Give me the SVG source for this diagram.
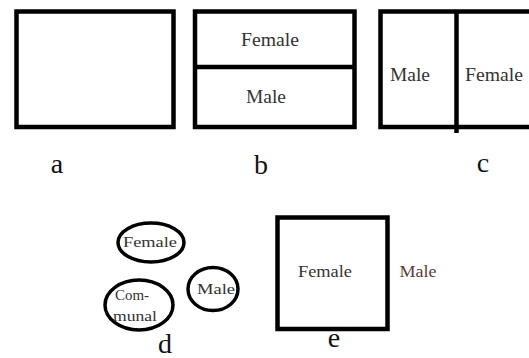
<svg xmlns="http://www.w3.org/2000/svg" width="529" height="358" viewBox="0 0 529 358">
<style>
.box{fill:#fff;stroke:#000;stroke-width:4.5}
.ell{fill:#fff;stroke:#000;stroke-width:3.5}
.ln{stroke:#000;stroke-width:4.5;fill:none}
.t{fill:#333;text-anchor:middle}
.lbl{fill:#111;text-anchor:middle;font-size:28px}
</style>
<rect width="529" height="358" fill="#fff"/>
<g font-family="Times New Roman, Liberation Serif, DejaVu Serif, serif">
<g id="a">
<rect class="box" x="16.5" y="11.5" width="157" height="115.5"/>
<text class="lbl" x="57" y="173">a</text>
</g>
<g id="b">
<rect class="box" x="195" y="11.5" width="159.5" height="115.5"/>
<line class="ln" x1="195" y1="67" x2="354.5" y2="67"/>
<text class="t" x="270" y="46" font-size="18" textLength="58" lengthAdjust="spacingAndGlyphs">Female</text>
<text class="t" x="266" y="103" font-size="18" textLength="40" lengthAdjust="spacingAndGlyphs">Male</text>
<text class="lbl" x="261" y="174">b</text>
</g>
<g id="c">
<rect class="box" x="380.5" y="11.5" width="160" height="115.5"/>
<line class="ln" x1="456.5" y1="10" x2="456.5" y2="133"/>
<text class="t" x="410" y="81" font-size="18" textLength="40" lengthAdjust="spacingAndGlyphs">Male</text>
<text class="t" x="494" y="81" font-size="18" textLength="58" lengthAdjust="spacingAndGlyphs">Female</text>
<text class="lbl" x="483" y="172">c</text>
</g>
<g id="d">
<ellipse class="ell" cx="151" cy="242.5" rx="33" ry="19.5"/>
<text class="t" x="150" y="247" font-size="15" textLength="54" lengthAdjust="spacingAndGlyphs">Female</text>
<ellipse class="ell" cx="139" cy="305" rx="34" ry="25"/>
<text class="t" x="132" y="300" font-size="15" textLength="34" lengthAdjust="spacingAndGlyphs">Com-</text>
<text class="t" x="135" y="321" font-size="15" textLength="44" lengthAdjust="spacingAndGlyphs">munal</text>
<ellipse class="ell" cx="213" cy="289" rx="25" ry="21.5"/>
<text class="t" x="216" y="294" font-size="15" textLength="38" lengthAdjust="spacingAndGlyphs">Male</text>
<text class="lbl" x="165" y="353" font-size="26">d</text>
</g>
<g id="e">
<rect class="box" x="277.5" y="217.5" width="110" height="111.5"/>
<text class="t" x="325" y="277" font-size="17" textLength="54" lengthAdjust="spacingAndGlyphs">Female</text>
<text class="t" x="418" y="277" font-size="17" style="fill:#5a3a3a" textLength="37" lengthAdjust="spacingAndGlyphs">Male</text>
<text class="lbl" x="334" y="347">e</text>
</g>
</g>
</svg>
